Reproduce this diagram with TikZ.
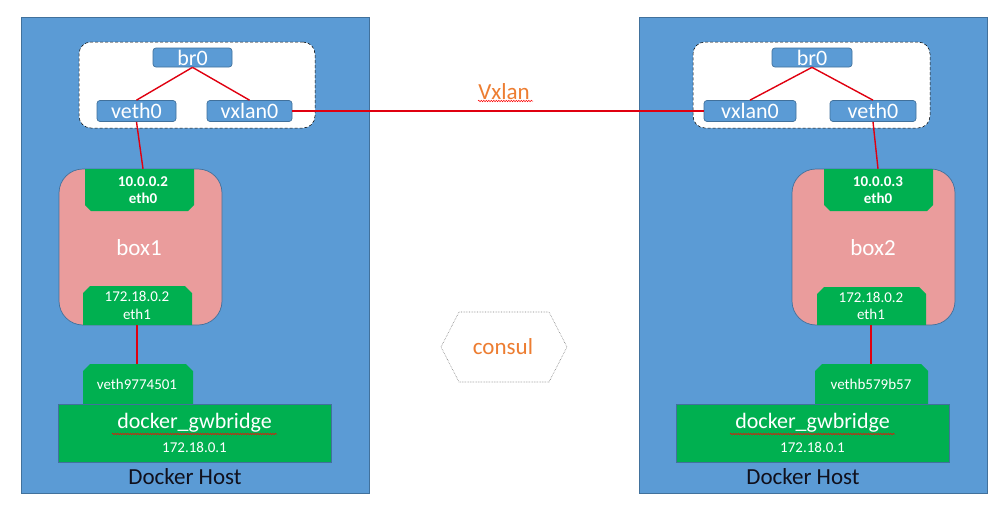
\documentclass[tikz,border=0pt]{standalone}
\usepackage{fontspec}
\setmainfont{Carlito}
\usetikzlibrary{decorations.pathmorphing}
\definecolor{hostblue}{HTML}{5B9BD5}
\definecolor{hostedge}{HTML}{41719C}
\definecolor{boxpink}{HTML}{EA9C9C}
\definecolor{ifgreen}{HTML}{00B050}
\definecolor{linkred}{HTML}{E00010}
\definecolor{lblorange}{HTML}{ED7D31}
\definecolor{hosttext}{HTML}{10101C}
\tikzset{
  hostbox/.style={draw=hostedge, line width=0.8pt, fill=hostblue, minimum width=348pt, minimum height=476pt, inner sep=0pt},
  brbox/.style={draw=black, densely dashed, line width=0.5pt, fill=white, rounded corners=12pt, minimum width=236pt, minimum height=86pt, inner sep=0pt},
  devbox/.style={draw=hostedge, line width=0.7pt, fill=hostblue, rounded corners=3pt, minimum height=21pt, inner sep=0pt, text=white, font=\fontsize{22}{24}\selectfont},
  cbox/.style={draw=hostedge, line width=0.7pt, fill=boxpink, rounded corners=24pt, minimum width=163pt, minimum height=156pt, inner sep=0pt},
  boxlbl/.style={text=white, font=\fontsize{23}{25}\selectfont},
  iflbl/.style={text=white, align=center, inner sep=0pt, font=\fontsize{15}{17.5}\selectfont},
  iflblb/.style={text=white, align=center, inner sep=0pt, font=\bfseries\fontsize{15}{17}\selectfont},
  gwbox/.style={draw=hostedge, line width=0.5pt, fill=ifgreen, minimum width=273pt, minimum height=58pt, inner sep=0pt},
  gwname/.style={text=white, inner sep=0pt, font=\fontsize{22}{24}\selectfont},
  gwip/.style={text=white, inner sep=0pt, font=\fontsize{15}{17}\selectfont},
  hostlbl/.style={text=hosttext, font=\fontsize{23}{25}\selectfont},
  link/.style={draw=linkred, line width=1.4pt},
  spell/.style={draw=red, line width=0.5pt, decorate, decoration={snake, amplitude=0.7pt, segment length=2.5pt}},
  orangelbl/.style={text=lblorange, font=\fontsize{23}{25}\selectfont},
}
\begin{document}
\begin{tikzpicture}[x=1pt, y=-1pt]
\useasboundingbox (0,0) rectangle (1007,514);
\fill[white] (0,0) rectangle (1007,514);

% hosts
\node[hostbox] (hostL) at (195,255) {};
\node[hostbox] (hostR) at (813,255) {};

% bridge areas
\node[brbox] (brareaL) at (197,85) {};
\node[brbox, minimum width=237pt] (brareaR) at (811.5,85) {};

% devices left
\node[devbox, minimum width=79pt, minimum height=19pt] (brL) at (192.5,57.5) {br0};
\node[devbox, minimum width=79pt] (vethL) at (136.5,111) {veth0};
\node[devbox, minimum width=85pt] (vxL) at (249.5,111) {vxlan0};
% devices right
\node[devbox, minimum width=80pt, minimum height=19pt] (brR) at (812,57.5) {br0};
\node[devbox, minimum width=92pt] (vxR) at (750,111) {vxlan0};
\node[devbox, minimum width=86pt] (vethR) at (873,111) {veth0};

% containers
\node[cbox] (box1) at (140.5,247) {};
\node[cbox] (box2) at (873.5,247) {};
\node[boxlbl] (box1lbl) at (139,248) {box1};
\node[boxlbl] (box2lbl) at (873,248) {box2};

% interface tabs (shapes)
\fill[ifgreen] (85,169) -- (194,169) -- (194,205) -- (188,211) -- (91,211) -- (85,205) -- cycle;
\fill[ifgreen] (824,169) -- (933,169) -- (933,205) -- (927,211) -- (830,211) -- (824,205) -- cycle;
\fill[ifgreen] (83,325) -- (83,293) -- (90,286) -- (185,286) -- (192,293) -- (192,325) -- cycle;
\fill[ifgreen] (817,325) -- (817,294) -- (824,287) -- (919,287) -- (926,294) -- (926,325) -- cycle;
\fill[ifgreen] (83,404) -- (83,371) -- (90,364) -- (186,364) -- (193,371) -- (193,404) -- cycle;
\fill[ifgreen] (815,404) -- (815,371) -- (822,364) -- (921,364) -- (928,371) -- (928,404) -- cycle;

% gwbridge
\node[gwbox] (gwL) at (194.5,433) {};
\node[gwbox] (gwR) at (812.5,433) {};
\node[gwname] (gwnameL) at (194.5,423) {docker\_gwbridge};
\node[gwname] (gwnameR) at (812.5,423) {docker\_gwbridge};
\node[gwip] (gwipL) at (194.5,447) {172.18.0.1};
\node[gwip] (gwipR) at (812.5,447) {172.18.0.1};
\draw[spell] (112,434) -- (277,434);
\draw[spell] (730,434) -- (895,434);

% interface labels
\node[iflblb, minimum width=100pt, minimum height=42pt] (eth0L) at (143,190) {10.0.0.2\\eth0};
\node[iflblb, minimum width=100pt, minimum height=42pt] (eth0R) at (878,190) {10.0.0.3\\eth0};
\node[iflbl, minimum width=100pt, minimum height=39pt] (eth1L) at (137,305.5) {172.18.0.2\\eth1};
\node[iflbl, minimum width=100pt, minimum height=38pt] (eth1R) at (871,306) {172.18.0.2\\eth1};
\node[iflbl, minimum width=100pt, minimum height=40pt] (vethbL) at (137,384) {veth9774501};
\node[iflbl, minimum width=100pt, minimum height=40pt] (vethbR) at (871,384) {vethb579b57};

% host labels
\node[hostlbl] (hostlblL) at (185,477) {Docker Host};
\node[hostlbl] (hostlblR) at (803,477) {Docker Host};

% connectors
\draw[link] (brL.south) -- (vethL.north);
\draw[link] (brL.south) -- (vxL.north);
\draw[link] (brR.south) -- (vxR.north);
\draw[link] (brR.south) -- (vethR.north);
\draw[link] (vxL.east) -- (vxR.west);
\draw[link] (vethL.south) -- (eth0L.north);
\draw[link] (vethR.south) -- (eth0R.north);
\draw[link] (eth1L.south) -- (vethbL.north);
\draw[link] (eth1R.south) -- (vethbR.north);

% vxlan label
\node[orangelbl] (vxlanlbl) at (504,92) {Vxlan};
\draw[spell] (478,101) -- (533,101);

% consul
\draw[gray, densely dotted, line width=0.6pt] (441,347) -- (459,312) -- (549,312) -- (567,347) -- (549,382) -- (459,382) -- cycle;
\node[orangelbl] (consul) at (503,347) {consul};
\end{tikzpicture}
\end{document}
